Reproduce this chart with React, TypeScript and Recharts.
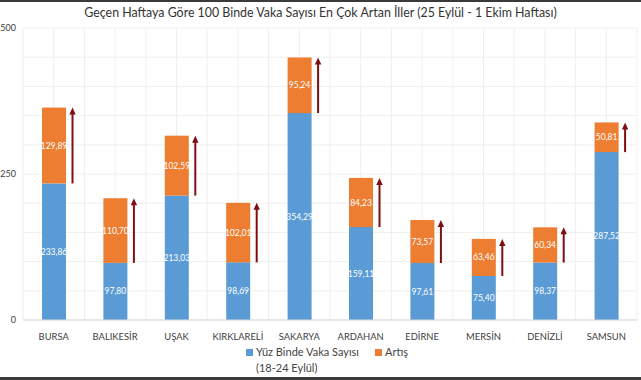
import { BarChart, Bar, XAxis, YAxis, CartesianGrid, Legend, LabelList } from "recharts"

const cities = ["BURSA", "BALIKESİR", "UŞAK", "KIRKLARELİ", "SAKARYA", "ARDAHAN", "EDİRNE", "MERSİN", "DENİZLİ", "SAMSUN"]
const baseRate = [233.86, 97.8, 213.03, 98.69, 354.29, 159.11, 97.61, 75.4, 98.37, 287.52]
const increase = [129.89, 110.7, 102.59, 102.01, 95.24, 84.23, 73.57, 63.46, 60.34, 50.81]
const yTicks = [0, 250, 500]
const gridTicks = [0, 50, 100, 150, 200, 250, 300, 350, 400, 450, 500]

const data = cities.map((city, i) => ({ city, base: baseRate[i], inc: increase[i] }))

const BLUE = "#5b9bd5"
const ORANGE = "#ed7d31"
const ARROW = "#7e0f12"
const FONT = "Lato, 'Open Sans', sans-serif"

const fmt = (v: any) => Number(v).toFixed(2).replace(".", ",")

// orange segment plus the red arrow running from blue top to total
const IncShape = (props: any) => {
  const { x, y, width, height } = props
  const ax = x + width + 6.5
  return (
    <g>
      <rect x={x} y={y} width={width} height={height} fill={ORANGE} />
      <line x1={ax} y1={y + height} x2={ax} y2={y + 6} stroke={ARROW} strokeWidth={2} />
      <path d={`M${ax - 3.2},${y + 7} L${ax},${y} L${ax + 3.2},${y + 7} Z`} fill={ARROW} />
    </g>
  )
}

const LegendBox = () => (
  <div style={{ display: "flex", fontFamily: FONT, fontSize: 11, color: "#444", lineHeight: "16px" }}>
    <div style={{ display: "flex", alignItems: "flex-start" }}>
      <span style={{ width: 7, height: 7, background: BLUE, marginTop: 5, marginRight: 3 }} />
      <span>
        Yüz Binde Vaka Sayısı
        <br />
        (18-24 Eylül)
      </span>
    </div>
    <div style={{ display: "flex", alignItems: "flex-start", marginLeft: 16 }}>
      <span style={{ width: 7, height: 7, background: ORANGE, marginTop: 5, marginRight: 3 }} />
      <span>Artış</span>
    </div>
  </div>
)

export default function App() {
  return (
    <div
      style={{
        position: "absolute",
        left: 0,
        top: 0,
        width: 641,
        height: 380,
        background: "#fff",
        overflow: "hidden",
      }}
    >
      <div style={{ position: "absolute", left: 0, top: 0, width: 641, height: 2, background: "#3a3a3a" }} />
      <div style={{ position: "absolute", left: 0, top: 377, width: 641, height: 3, background: "#3a3a3a" }} />
      <div
        style={{
          position: "absolute",
          top: 5,
          width: 641,
          textAlign: "center",
          fontFamily: FONT,
          fontSize: 12.4,
          color: "#333",
        }}
      >
        Geçen Haftaya Göre 100 Binde Vaka Sayısı En Çok Artan İller (25 Eylül - 1 Ekim Haftası)
      </div>
      <BarChart width={641} height={380} data={data} margin={{ top: 28, right: 4, left: 0, bottom: 30 }}>
        <CartesianGrid
          stroke="#efefef"
          horizontalCoordinatesGenerator={({ offset }: any) =>
            gridTicks.map((t) => offset.top + offset.height * (1 - t / 500))
          }
          verticalCoordinatesGenerator={({ offset }: any) =>
            Array.from({ length: cities.length * 2 + 1 }, (_, k) => offset.left + (offset.width * k) / (cities.length * 2))
          }
        />
        <XAxis
          dataKey="city"
          height={30}
          axisLine={{ stroke: "#d9d9d9" }}
          tickLine={false}
          tickMargin={7}
          interval={0}
          tick={{ fontSize: 9.4, fill: "#404040", fontFamily: FONT }}
        />
        <YAxis
          width={23}
          domain={[0, 500]}
          ticks={yTicks}
          axisLine={false}
          tickLine={false}
          tickSize={0}
          tickMargin={7}
          tick={{ fontSize: 9, fill: "#404040", fontFamily: FONT }}
        />
        <Legend
          verticalAlign="middle"
          align="center"
          content={<LegendBox />}
          wrapperStyle={{ left: 246, top: 344, width: 220 }}
        />
        <Bar dataKey="base" stackId="a" fill={BLUE} barSize={24} isAnimationActive={false}>
          <LabelList dataKey="base" position="center" formatter={fmt} fill="#fff" fontSize={8.5} fontFamily={FONT} />
        </Bar>
        <Bar dataKey="inc" stackId="a" fill={ORANGE} barSize={24} shape={<IncShape />} isAnimationActive={false}>
          <LabelList dataKey="inc" position="center" formatter={fmt} fill="#fff" fontSize={8.5} fontFamily={FONT} />
        </Bar>
      </BarChart>
    </div>
  )
}
